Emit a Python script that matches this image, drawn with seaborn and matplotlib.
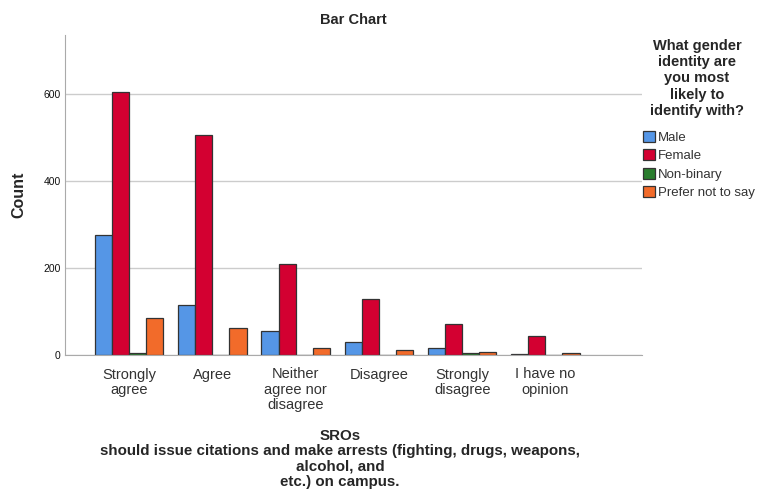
import matplotlib
matplotlib.use("Agg")
import matplotlib.pyplot as plt
import seaborn as sns
import pandas as pd

categories = ["Strongly\nagree", "Agree", "Neither\nagree nor\ndisagree", "Disagree",
              "Strongly\ndisagree", "I have no\nopinion"]
genders = ["Male", "Female", "Non-binary", "Prefer not to say"]
male = [276, 115, 54, 30, 16, 3]
female = [603, 506, 208, 129, 72, 44]
nonbinary = [5, 1, 1, 0, 4, 0]
prefer_not = [86, 61, 16, 11, 7, 5]
colors = ["#5596E6", "#D30031", "#2A7D2E", "#F26B2A"]

rows = []
for g, vals in zip(genders, [male, female, nonbinary, prefer_not]):
    for c, v in zip(categories, vals):
        rows.append({"response": c, "gender": g, "count": v})
df = pd.DataFrame(rows)

sns.set_style("white")
plt.rcParams["font.family"] = ["Liberation Sans", "DejaVu Sans"]

fig = plt.figure(figsize=(7.59, 4.93), dpi=100)
ax = fig.add_axes([65 / 759, 1 - 355 / 493, 577 / 759, 320 / 493])

sns.barplot(data=df, x="response", y="count", hue="gender", order=categories,
            hue_order=genders, palette=colors, width=0.82, edgecolor="#333333",
            linewidth=0.9, saturation=1, ax=ax)

ax.set_xlim(-0.77, 6.16)
ax.set_ylim(0, 735)
ax.set_yticks([0, 200, 400, 600])
ax.yaxis.grid(True, color="#cccccc", linewidth=1)
ax.set_axisbelow(True)
for s in ["top", "right"]:
    ax.spines[s].set_visible(False)
for s in ["left", "bottom"]:
    ax.spines[s].set_color("#aaaaaa")
ax.tick_params(axis="y", labelsize=7.5, length=0, colors="#111111", pad=3)
ax.tick_params(axis="x", labelsize=10.5, length=0, colors="#333333", pad=9)
for lbl in ax.get_xticklabels():
    lbl.set_linespacing(1.1)

ax.set_ylabel("Count", fontsize=11.5, fontweight="bold", labelpad=12)
ax.set_xlabel("")
fig.text(340 / 759, 1 - 429 / 493,
         "SROs\nshould issue citations and make arrests (fighting, drugs, weapons,\nalcohol, and\netc.) on campus.",
         ha="center", va="top", fontsize=10.9, fontweight="bold", linespacing=1.12)
ax.set_title("Bar Chart", fontsize=10.5, fontweight="bold", pad=8)

fig.text(697 / 759, 1 - 39 / 493,
         "What gender\nidentity are\nyou most\nlikely to\nidentify with?",
         ha="center", va="top", fontsize=10.5, fontweight="bold", linespacing=1.2)

handles, labels = ax.get_legend_handles_labels()
leg = ax.legend(handles, labels, loc="upper left", bbox_to_anchor=(643 / 759, 1 - 131 / 493),
                bbox_transform=fig.transFigure, frameon=False,
                fontsize=9.5, handlelength=0.9, handleheight=0.9, handletextpad=0.25,
                labelspacing=0.4, borderaxespad=0, borderpad=0)
for t in leg.get_texts():
    t.set_color("#333333")

fig.savefig("out.png", dpi=100)
